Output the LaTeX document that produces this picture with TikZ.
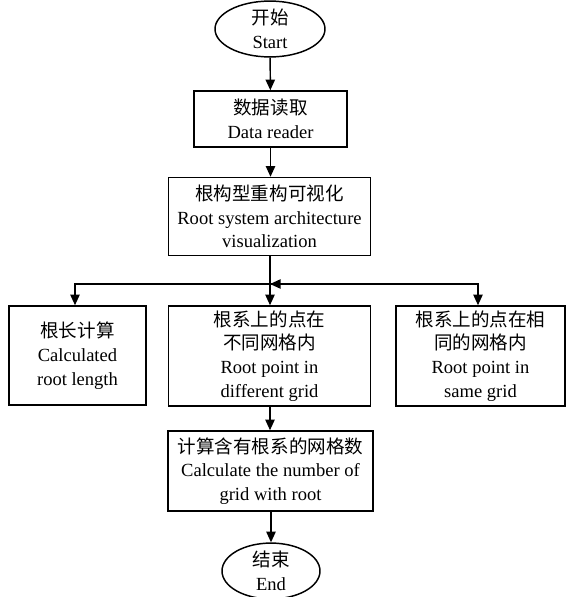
\documentclass[tikz,border=0pt]{standalone}
\usepackage{fontspec}
\setmainfont{Liberation Serif}
\newfontfamily\cjk{Noto Sans CJK SC}
\usetikzlibrary{shapes.geometric,arrows.meta,calc}
\tikzset{
  base/.style={draw=black, line width=1.1pt, inner sep=0pt, align=center,
    font=\fontsize{13.9pt}{17.8pt}\selectfont},
  boxnode/.style={base, rectangle},
  ovalnode/.style={base, ellipse},
  link/.style={line width=1.1pt, -{Triangle[length=8pt,width=7pt]}},
  plain/.style={line width=1.1pt}
}
\begin{document}
\begin{tikzpicture}[x=0.75pt,y=-0.75pt]
\useasboundingbox (0,0) rectangle (573,597);
\node[ovalnode, minimum width=110*0.75pt, minimum height=52*0.75pt] (start) at (270,29) {{\cjk 开始}\\Start};
\node[boxnode, minimum width=153*0.75pt, minimum height=56*0.75pt] (read) at (270.5,119) {{\cjk 数据读取}\\Data reader};
\node[boxnode, minimum width=202*0.75pt, minimum height=78*0.75pt] (vis) at (269.5,216.5) {{\cjk 根构型重构可视化}\\Root system architecture\\visualization};
\node[boxnode, minimum width=137*0.75pt, minimum height=99*0.75pt] (len) at (77.5,355.5) {{\cjk 根长计算}\\Calculated\\root length};
\node[boxnode, minimum width=202*0.75pt, minimum height=100*0.75pt] (diff) at (269.5,356) {{\cjk 根系上的点在}\\{\cjk 不同网格内}\\Root point in\\different grid};
\node[boxnode, minimum width=169*0.75pt, minimum height=100*0.75pt] (same) at (480.5,356) {{\cjk 根系上的点在相}\\{\cjk 同的网格内}\\Root point in\\same grid};
\node[boxnode, minimum width=205*0.75pt, minimum height=80*0.75pt] (calc) at (270.5,471) {{\cjk 计算含有根系的网格数}\\Calculate the number of\\grid with root};
\node[ovalnode, minimum width=98*0.75pt, minimum height=49*0.75pt] (end) at (271,571) {{\cjk 结束}\\End};
\coordinate (j) at (270,284);
\coordinate (jr) at (314,284);
\draw[link] (start) -- (read);
\draw[link] (read) -- (read |- vis.north);
\draw[link] (vis.south -| j) -- (j |- diff.north);
\draw[link] (j) -| (75,0 |- len.north);
\draw[link] (j) -| (478,0 |- same.north);
\draw[link] (jr) -- (j);
\draw[link] (calc.north -| j) ++(0,-25) -- (calc.north -| j);
\draw[link] (calc.south -| end) -- (end.north);
\end{tikzpicture}
\end{document}
